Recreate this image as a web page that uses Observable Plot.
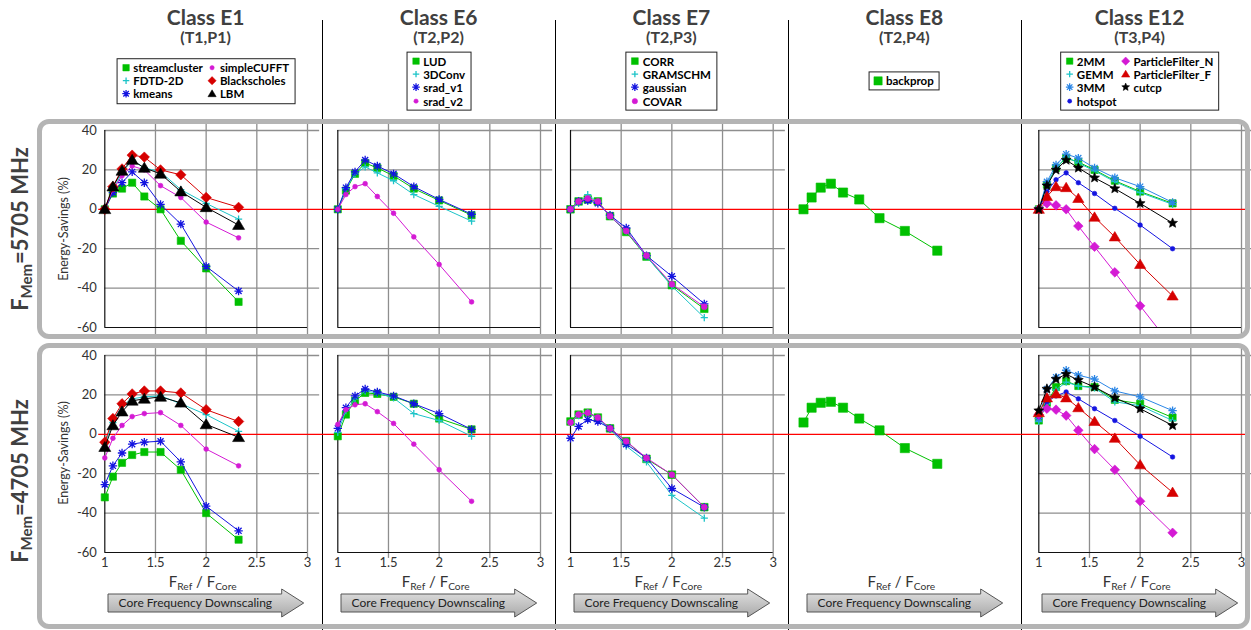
<!DOCTYPE html>
<html>
<head>
<meta charset="utf-8">
<script src="https://cdn.jsdelivr.net/npm/d3@7"></script>
<script src="https://cdn.jsdelivr.net/npm/@observablehq/plot@0.6"></script>
<style>
  body { margin: 0; background: #fff; font-family: Lato, "Open Sans", sans-serif; }
  #fig { position: relative; width: 1251px; height: 630px; overflow: hidden; background: #fff; }
  #fig > * { position: absolute; }
  .sub { font-size: 0.68em; position: relative; top: 0.3em; }
</style>
</head>
<body>
<div id="fig"></div>
<script>
// F_Ref / F_Core for each core clock step
const ratio = [1, 1.08, 1.17, 1.27, 1.39, 1.55, 1.75, 2.0, 2.32];

// axis ticks
const xTicks = [1, 1.5, 2, 2.5, 3];
const yTicks = [40, 20, 0, -20, -40, -60];
const gridX = [1.5, 2, 2.5, 3];
const gridY = [40, 20, -20, -40];

// memory clocks (MHz), one row of panels each
const memClocks = ["5705", "4705"];

// energy savings (%) per benchmark, F_Mem = 5705 MHz and 4705 MHz
const e1At5705 = {
  streamcluster: [0, 8, 10.5, 13.5, 6.5, 0, -16, -30, -47],
  "FDTD-2D": [0, 10, 18.5, 25, 21, 19, 10, 3, -5],
  kmeans: [0, 8.5, 13.5, 19, 13.5, 2.5, -7.5, -29, -41.5],
  simpleCUFFT: [0, 10, 17, 22, 20, 12, 6, -6.5, -14.5],
  Blackscholes: [0, 11.5, 20.5, 27.5, 26.5, 20, 17.5, 6, 1],
  LBM: [0, 11.5, 19.5, 25, 21, 18, 9, 1, -8]
};
const e1At4705 = {
  streamcluster: [-32, -21.5, -14.5, -10.5, -9, -9, -18, -40, -53.5],
  "FDTD-2D": [-5, 6, 14.5, 18, 19, 19.5, 15.5, 10, 1.5],
  kmeans: [-25.5, -16, -9.5, -5, -4, -3.5, -14, -36.5, -49],
  simpleCUFFT: [-12, -2, 4.5, 9, 10.5, 11, 4.5, -7.5, -16],
  Blackscholes: [-4, 8, 15.5, 20.5, 22, 22, 21, 12.5, 6.5],
  LBM: [-6.5, 4.5, 11.5, 17, 18, 19, 16, 5, -1.5]
};
const e6At5705 = {
  LUD: [0, 9.5, 18, 23.5, 21, 17, 10.5, 4.5, -3],
  "3DConv": [0, 10.5, 18, 21.5, 18.5, 14.5, 7.5, 1.5, -6],
  srad_v1: [0, 11, 19, 25, 22, 18, 11.5, 5, -2.5],
  srad_v2: [0, 7.5, 11.5, 13, 6.5, -2, -14, -28, -47]
};
const e6At4705 = {
  LUD: [-1, 10, 17, 21, 20.5, 19, 15.5, 8, 2.5],
  "3DConv": [1, 12, 18, 22, 21, 18.5, 10.5, 7, -1],
  srad_v1: [3, 13.5, 19.5, 23, 21.5, 19.5, 15.5, 10.5, 2.5],
  srad_v2: [5, 12.5, 15, 15.5, 11.5, 5.5, -5, -18, -34]
};
const e7At5705 = {
  CORR: [0, 4, 5, 4, -3.5, -11.5, -24, -38.5, -50.5],
  GRAMSCHM: [0, 3, 7.5, 3.5, -3.5, -11, -24, -39, -55],
  gaussian: [0, 4, 4.5, 3, -3, -9.5, -23.5, -34, -48],
  COVAR: [0, 4, 5.5, 4, -3.5, -11, -23.5, -38, -49.5]
};
const e7At4705 = {
  CORR: [6.5, 10, 11, 8.5, 3, -3.5, -12.5, -20.5, -37],
  GRAMSCHM: [6, 9.5, 11, 8, 2.5, -6, -14, -31, -42.5],
  gaussian: [-2, 4, 7.5, 6.5, 3, -5, -12, -27.5, -37],
  COVAR: [6, 10, 11, 8.5, 3, -3.5, -12, -20.5, -37]
};
const e8At5705 = {
  backprop: [0, 6, 11, 13, 8.5, 5, -4.5, -11, -21]
};
const e8At4705 = {
  backprop: [6, 13.5, 16, 16.5, 13.5, 8, 2, -7, -15]
};
const e12At5705 = {
  "2MM": [0, 12.5, 21, 26, 24, 20, 14.5, 9, 3],
  GEMM: [0, 13, 21, 26.5, 23.5, 19.5, 14, 8.5, 2.5],
  "3MM": [0, 14, 22.5, 28, 26, 21, 16, 11.5, 3.5],
  hotspot: [0, 9, 15, 18.5, 13.5, 8, 0.5, -8, -20],
  ParticleFilter_N: [0, 3, 2, 0, -8.5, -19, -32, -49, -70],
  ParticleFilter_F: [0, 6.5, 11.5, 11, 5.5, -4, -14, -28, -44],
  cutcp: [0, 12, 20, 25, 21, 16, 10.5, 3, -7]
};
const e12At4705 = {
  "2MM": [7, 16, 24, 27, 24.5, 24, 17.5, 15.5, 8.5],
  GEMM: [6.5, 15.5, 22.5, 26.5, 24.5, 23.5, 16.5, 14.5, 7],
  "3MM": [8, 23, 29, 32.5, 30, 28, 22, 19, 12],
  hotspot: [9, 16.5, 19.5, 21.5, 18, 13, 7, -1, -11.5],
  ParticleFilter_N: [10, 13, 12.5, 9.5, 2, -7.5, -18, -34, -50],
  ParticleFilter_F: [11, 18.5, 20.5, 18.5, 13.5, 6.5, -2, -15.5, -29.5],
  cutcp: [12, 23, 28, 30.5, 27.5, 24, 18.5, 13, 4.5]
};

// ---- marker shapes (r = half width) ----
const rad = s => Math.sqrt(s / Math.PI);
const symbols = {
  square: { draw(c, s) { const r = rad(s); c.rect(-r, -r, 2 * r, 2 * r); } },
  circle: { draw(c, s) { const r = rad(s); c.moveTo(r, 0); c.arc(0, 0, r, 0, 2 * Math.PI); } },
  diamond: { draw(c, s) { const r = rad(s); c.moveTo(0, -r); c.lineTo(r, 0); c.lineTo(0, r); c.lineTo(-r, 0); c.closePath(); } },
  triangle: { draw(c, s) { const r = rad(s); c.moveTo(0, -0.95 * r); c.lineTo(r, 0.72 * r); c.lineTo(-r, 0.72 * r); c.closePath(); } },
  plus: { draw(c, s) { const r = rad(s); c.moveTo(-r, 0); c.lineTo(r, 0); c.moveTo(0, -r); c.lineTo(0, r); } },
  asterisk: { draw(c, s) { const r = rad(s), d = r * 0.72;
    c.moveTo(-r, 0); c.lineTo(r, 0); c.moveTo(0, -r); c.lineTo(0, r);
    c.moveTo(-d, -d); c.lineTo(d, d); c.moveTo(-d, d); c.lineTo(d, -d); } },
  star: { draw(c, s) { const r = rad(s), ri = r * 0.45;
    for (let k = 0; k < 10; k++) {
      const a = -Math.PI / 2 + k * Math.PI / 5, rr = k % 2 ? ri : r;
      if (k) c.lineTo(rr * Math.cos(a), rr * Math.sin(a)); else c.moveTo(rr * Math.cos(a), rr * Math.sin(a));
    }
    c.closePath(); } }
};
const hollow = new Set(["plus", "asterisk"]);

const green = "#00c000", cyan = "#1cc4c8", blue = "#1414e0", lightBlue = "#2b86e6",
      magenta = "#d41ad4", red = "#d60000", black = "#000000";

const seriesStyle = {
  streamcluster: { color: green, symbol: "square", r: 3.6 },
  "FDTD-2D": { color: cyan, symbol: "plus", r: 3.6 },
  kmeans: { color: blue, symbol: "asterisk", r: 4.2 },
  simpleCUFFT: { color: magenta, symbol: "circle", r: 2.4 },
  Blackscholes: { color: red, symbol: "diamond", r: 5.2 },
  LBM: { color: black, symbol: "triangle", r: 6 },
  LUD: { color: green, symbol: "square", r: 3.6 },
  "3DConv": { color: cyan, symbol: "plus", r: 3.6 },
  srad_v1: { color: blue, symbol: "asterisk", r: 4.2 },
  srad_v2: { color: magenta, symbol: "circle", r: 2.4 },
  CORR: { color: green, symbol: "square", r: 3.8 },
  GRAMSCHM: { color: cyan, symbol: "plus", r: 3.6 },
  gaussian: { color: blue, symbol: "asterisk", r: 4.2 },
  COVAR: { color: magenta, symbol: "circle", r: 3 },
  backprop: { color: green, symbol: "square", r: 4.6 },
  "2MM": { color: green, symbol: "square", r: 3.6 },
  GEMM: { color: cyan, symbol: "plus", r: 3.6 },
  "3MM": { color: lightBlue, symbol: "asterisk", r: 4.2 },
  hotspot: { color: blue, symbol: "circle", r: 2.3 },
  ParticleFilter_N: { color: magenta, symbol: "diamond", r: 4.8 },
  ParticleFilter_F: { color: red, symbol: "triangle", r: 5.6 },
  cutcp: { color: black, symbol: "star", r: 5.2 }
};

// ---- layout ----
const columns = [
  { cls: "E1", tag: "(T1,P1)", tables: [e1At5705, e1At4705], left: 40, width: 282, ml: 64.3, mr: 15, yAxis: true, frame: true, legendRows: 3, red: [0.94, 3.15] },
  { cls: "E6", tag: "(T2,P2)", tables: [e6At5705, e6At4705], left: 322, width: 233, ml: 15.3, mr: 15, frame: true, legendRows: 4, red: [0.85, 3.15] },
  { cls: "E7", tag: "(T2,P3)", tables: [e7At5705, e7At4705], left: 555, width: 233, ml: 15, mr: 15.3, frame: true, legendRows: 4, red: [0.85, 3.15] },
  { cls: "E8", tag: "(T2,P4)", tables: [e8At5705, e8At4705], left: 788, width: 233, ml: 15, mr: 15.3, frame: false, legendRows: 1, red: [0.85, 3.15] },
  { cls: "E12", tag: "(T3,P4)", tables: [e12At5705, e12At4705], left: 1021, width: 230, ml: 17.3, mr: 10, frame: true, legendRows: 4, red: [0.83, 3.04] }
];
const rows = [
  { top: 110, mt: 20, mb: 18, gridTop: 43.5, gridBottom: -65 },
  { top: 335, mt: 20, mb: 25, gridTop: 43.5, gridBottom: -63 }
];
const areaH = 197;
const gridColor = "#8e8e8e";

const fig = document.getElementById("fig");
function add(html, css) {
  const el = document.createElement("div");
  el.innerHTML = html;
  el.style.cssText = css;
  fig.appendChild(el);
  return el;
}

function panel(col, ri) {
  const row = rows[ri];
  const table = col.tables[ri];
  const marks = [];
  if (col.frame) {
    marks.push(Plot.ruleX(gridX, { y1: row.gridTop, y2: row.gridBottom, stroke: gridColor, strokeWidth: 1.3 }));
    marks.push(Plot.ruleY(gridY, { x1: 1, x2: 3.12, stroke: gridColor, strokeWidth: 1.3 }));
    marks.push(Plot.ruleX([1], { y1: -60, y2: 40, stroke: "#111", strokeWidth: 1.2 }));
    marks.push(Plot.ruleY([-60], { x1: 1, x2: 3, stroke: "#111", strokeWidth: 1.2 }));
  }
  marks.push(Plot.ruleY([0], { x1: col.red[0], x2: col.red[1], stroke: "#ff0000", strokeWidth: 1.3 }));
  for (const name of Object.keys(table)) {
    const s = seriesStyle[name];
    const pts = ratio.map((x, i) => ({ x, y: table[name][i] }));
    const open = hollow.has(s.symbol);
    marks.push(Plot.line(pts, { x: "x", y: "y", stroke: s.color, strokeWidth: 1, clip: true }));
    marks.push(Plot.dot(pts, {
      x: "x", y: "y", filter: d => d.y >= -60, r: s.r, symbol: symbols[s.symbol],
      fill: open ? "none" : s.color, stroke: s.color, strokeWidth: open ? 1.3 : 0.6
    }));
  }
  const x = { domain: [1, 3] };
  const y = { domain: [-60, 40] };
  if (col.yAxis) marks.push(Plot.axisY(yTicks, { tickSize: 0, tickPadding: 8, tickFormat: d => String(d), label: null }));
  else y.axis = null;
  if (col.frame && ri === 1) marks.push(Plot.axisX(xTicks, { tickSize: 0, tickPadding: 5, tickFormat: d => String(d), label: null }));
  else x.axis = null;
  const svg = Plot.plot({
    width: col.width, height: row.mt + areaH + row.mb,
    marginLeft: col.ml, marginRight: col.mr, marginTop: row.mt, marginBottom: row.mb,
    x, y, marks,
    style: { background: "transparent", overflow: "visible", fontFamily: "Lato, sans-serif", fontSize: "13px", color: "#333" }
  });
  svg.style.position = "absolute";
  svg.style.left = col.left + "px";
  svg.style.top = row.top + "px";
  fig.appendChild(svg);
}

function markerSvg(name) {
  const s = seriesStyle[name];
  const p = d3.path();
  symbols[s.symbol].draw(p, Math.PI * Math.pow(Math.min(s.r, 4.6) * 0.9, 2));
  const open = hollow.has(s.symbol);
  return `<svg width="11" height="11" viewBox="-5.5 -5.5 11 11" style="flex:none"><path d="${p}" fill="${open ? "none" : s.color}" stroke="${s.color}" stroke-width="${open ? 1.3 : 0.5}"/></svg>`;
}

// separators between classes
for (const col of columns.slice(1)) {
  add("", `left:${col.left - 0.5}px;top:20px;width:1px;height:610px;background:#000;`);
}

for (const col of columns) {
  const cx = col.left + col.ml + (col.width - col.ml - col.mr) / 2;
  const x1px = col.left + col.ml;
  const x3px = col.left + col.width - col.mr;

  add(`Class ${col.cls}`, `left:${cx}px;top:6px;transform:translateX(-50%);font:700 21px/21px Lato,sans-serif;color:#404040;white-space:nowrap;`);
  add(col.tag, `left:${cx}px;top:29px;transform:translateX(-50%);font:700 16px/16px Lato,sans-serif;color:#404040;white-space:nowrap;`);

  const names = Object.keys(col.tables[0]);
  const items = names.map(n => `<div style="display:flex;align-items:center;gap:2px">${markerSvg(n)}<span>${n}</span></div>`).join("");
  add(items, `left:${cx}px;top:81px;transform:translate(-50%,-50%);border:1px solid #222;background:#fff;padding:2px 5px 2px 3px;display:grid;grid-auto-flow:column;grid-template-rows:repeat(${col.legendRows},13.2px);column-gap:4px;font:700 11.5px/13.2px Lato,sans-serif;color:#000;white-space:nowrap;`);

  panel(col, 0);
  panel(col, 1);

  // x label
  add(`F<span class="sub">Ref</span> / F<span class="sub">Core</span>`,
      `left:${cx - 3}px;top:574px;transform:translateX(-50%);font:400 15px/15px Lato,sans-serif;color:#333;white-space:nowrap;`);

  // downscaling arrow
  const aw = (x3px - 2) - (x1px + 4), head = 22, hb = 9, hh = 14;
  add(`<svg width="${aw + 2}" height="${2 * hh + 2}" style="overflow:visible">
      <defs><linearGradient id="g${col.cls}" x1="0" x2="0" y1="0" y2="1"><stop offset="0" stop-color="#e2e2e2"/><stop offset="1" stop-color="#a9a9a9"/></linearGradient></defs>
      <path d="M1,${hh + 1 - hb} H${aw - head} V1 L${aw},${hh + 1} L${aw - head},${2 * hh + 1} V${hh + 1 + hb} H1 Z" fill="url(#g${col.cls})" stroke="#555" stroke-width="1"/>
      <text x="${(aw - head) / 2 + 1}" y="${hh + 1}" dy="0.35em" text-anchor="middle" font-family="Lato, sans-serif" font-size="12" fill="#222">Core Frequency Downscaling</text>
    </svg>`, `left:${x1px + 3}px;top:${603 - hh - 1}px;line-height:0;`);
}

// y label on the first column
for (const [ri, cy] of [[0, 228.5], [1, 453]]) {
  add("Energy-Savings (%)", `left:63px;top:${cy}px;transform:translate(-50%,-50%) rotate(-90deg);font:400 12.5px/13px Lato,sans-serif;color:#333;white-space:nowrap;`);
}

// row labels
memClocks.forEach((m, ri) => {
  const cy = ri === 0 ? 229 : 481;
  add(`F<span class="sub">Mem</span>=${m} MHz`, `left:21px;top:${cy}px;transform:translate(-50%,-50%) rotate(-90deg);font:700 22px/22px Lato,sans-serif;color:#404040;white-space:nowrap;`);
});

// row frames
add("", "left:37px;top:119px;width:1213px;height:220px;box-sizing:border-box;border:5px solid #b4b4b4;border-radius:12px;pointer-events:none;");
add("", "left:37px;top:343px;width:1213px;height:286px;box-sizing:border-box;border:5px solid #b4b4b4;border-radius:12px;pointer-events:none;");
</script>
</body>
</html>
